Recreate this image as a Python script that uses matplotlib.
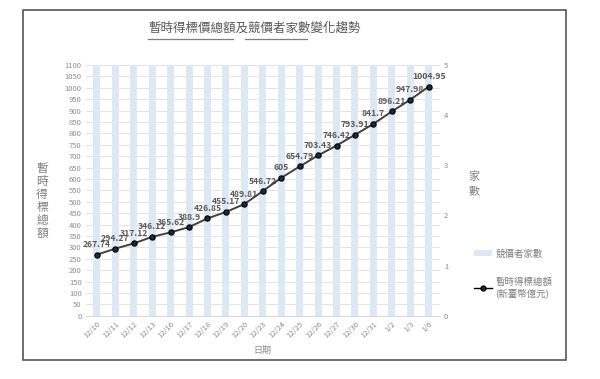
import matplotlib
matplotlib.use("Agg")
import matplotlib.pyplot as plt
from matplotlib.patches import Rectangle
from matplotlib.lines import Line2D
from matplotlib.patches import Patch

plt.rcParams['font.family'] = ['Noto Sans CJK TC', 'DejaVu Sans']

dates = ['12/10', '12/11', '12/12', '12/13', '12/16', '12/17', '12/18', '12/19', '12/20',
         '12/23', '12/24', '12/25', '12/26', '12/27', '12/30', '12/31', '1/2', '1/3', '1/6']
total = [267.74, 294.27, 317.12, 346.12, 365.62, 388.9, 426.85, 455.17, 489.81,
         546.72, 605, 654.79, 703.43, 746.42, 793.91, 841.7, 896.21, 947.98, 1004.95]
bidders = [5] * 19

fig = plt.figure(figsize=(6, 3.79), dpi=100)
fig.patches.append(Rectangle((0.038, 0.050), 0.905, 0.923, transform=fig.transFigure,
                             fill=False, edgecolor='#555555', linewidth=1.2))

ax = fig.add_axes([0.143, 0.167, 0.59, 0.6615])
ax2 = ax.twinx()
x = list(range(len(dates)))

ax2.bar(x, bidders, width=0.38, color='#dce8f4', zorder=2)
ax2.set_ylim(0, 5)
ax2.set_yticks(range(6))

ax.set_zorder(ax2.get_zorder() + 1)
ax.patch.set_visible(False)
ax.plot(x, total, color='#404040', linewidth=1.4, marker='o', markersize=3.8,
        markerfacecolor='#1f2a3a', markeredgecolor='black', markeredgewidth=0.8, zorder=5)
for xi, v in zip(x, total):
    ax.annotate(f'{v:g}', (xi, v), xytext=(0, 4), textcoords='offset points',
                ha='center', va='bottom', fontsize=6.2, color='#595959', fontweight='bold')

ax.set_ylim(0, 1100)
ax.set_yticks(range(0, 1101, 50))
ax.set_xlim(-0.6, len(dates) - 0.4)
ax.set_xticks(x)
ax.set_xticklabels(dates, rotation=45, ha='right', rotation_mode='anchor')
ax2.set_xlim(ax.get_xlim())

for a in (ax, ax2):
    for s in a.spines.values():
        s.set_visible(False)
    a.tick_params(length=0, labelsize=5.5, labelcolor='#8c8c8c', pad=3)
ax.spines['bottom'].set_visible(True)
ax.spines['bottom'].set_color('#d9d9d9')
for t in range(50, 1101, 50):
    ax2.axhline(t / 220, color='#e3e3e3', linewidth=0.7, zorder=1)

ax.set_xlabel('日期', fontsize=6.5, color='#8c8c8c', labelpad=4)
ax.xaxis.set_label_coords(0.5, -0.12)

for i, ch in enumerate('暫時得標總額'):
    fig.text(0.07, 0.555 - i * 0.034, ch, fontsize=8.5, color='#7f7f7f',
             ha='center', va='center')
for i, ch in enumerate('家數'):
    fig.text(0.79, 0.535 - i * 0.04, ch, fontsize=8, color='#7f7f7f',
             ha='center', va='center')

fig.text(0.425, 0.925, '暫時得標價總額及競價者家數變化趨勢', fontsize=9, color='#595959',
         ha='center', va='center')
fig.add_artist(Line2D([0.247, 0.388], [0.897, 0.897], color='#7f7f7f', linewidth=0.9))
fig.add_artist(Line2D([0.408, 0.512], [0.897, 0.897], color='#7f7f7f', linewidth=0.9))

handles = [Patch(facecolor='#dce8f4', edgecolor='none'),
           Line2D([0], [0], color='black', marker='o', markersize=3.5,
                  markerfacecolor='#1f2a3a', markeredgecolor='black', linewidth=1.0)]
fig.legend(handles, ['競價者家數', '暫時得標總額\n(新臺幣億元)'], loc='upper left',
           bbox_to_anchor=(0.775, 0.365), frameon=False, fontsize=6.8,
           labelcolor='#7f7f7f', handlelength=2.0, handleheight=0.6,
           handletextpad=0.3, labelspacing=2.0)

fig.savefig('out.png', dpi=100)
